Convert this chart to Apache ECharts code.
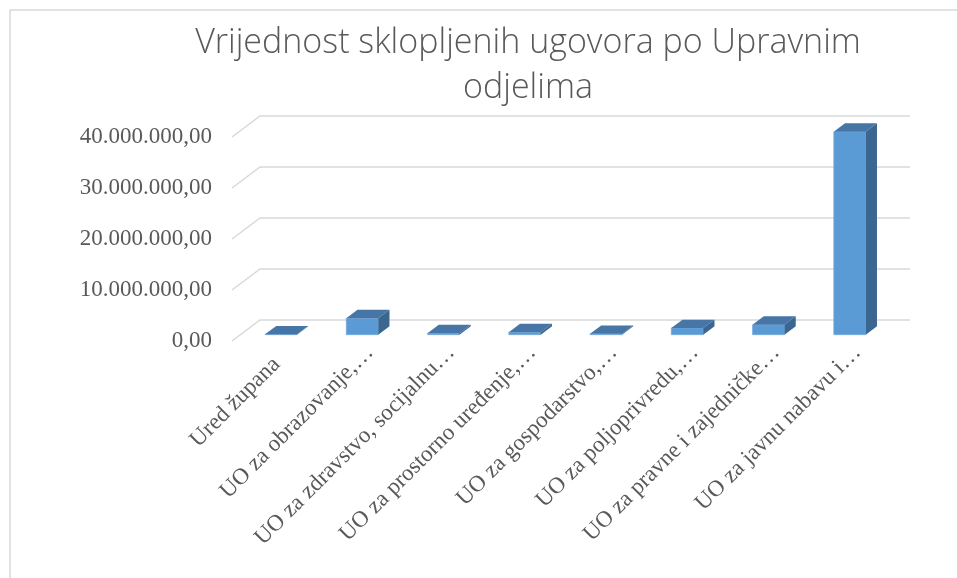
<!DOCTYPE html>
<html>
<head>
<meta charset="utf-8">
<script src="https://cdn.jsdelivr.net/npm/echarts@6/dist/echarts.min.js"></script>
<style>
  html, body { margin: 0; padding: 0; background: #fff; }
  #chart { width: 957px; height: 578px; }
</style>
</head>
<body>
<div id="chart"></div>
<script>
const categories = [
  'Ured župana',
  'UO za obrazovanje,…',
  'UO za zdravstvo, socijalnu…',
  'UO za prostorno uređenje,…',
  'UO za gospodarstvo,…',
  'UO za poljoprivredu,…',
  'UO za pravne i zajedničke…',
  'UO za javnu nabavu i…'
]
const values = [80000, 3250000, 300000, 500000, 180000, 1300000, 1950000, 39800000]
const yTicks = [0, 10000000, 20000000, 30000000, 40000000]

// oblique depth of the floor (front edge -> back wall), in pixels
const DEPTH = [28, -21]
const BAR_W = 32

function fmt(v) {
  const s = Math.round(v).toString().replace(/\B(?=(\d{3})+(?!\d))/g, '.')
  return s + ',00'
}

const chart = echarts.init(document.getElementById('chart'))

function renderWall(params, api) {
  const cs = params.coordSys
  const y = api.coord([0, api.value(0)])[1]
  const x0 = cs.x
  const x1 = cs.x + cs.width
  return {
    type: 'polyline',
    shape: {
      points: [
        [x0, y],
        [x0 + DEPTH[0], y + DEPTH[1]],
        [x1 + DEPTH[0], y + DEPTH[1]]
      ]
    },
    style: { stroke: '#d9d9d9', lineWidth: 1.5, fill: null },
    silent: true
  }
}

function renderBar(params, api) {
  const i = api.value(0)
  const top = api.coord([i, api.value(1)])
  const base = api.coord([i, 0])
  // bar sits in the middle 40% of the floor depth
  const fx = DEPTH[0] * 0.3
  const fy = DEPTH[1] * 0.3
  const dx = DEPTH[0] * 0.4
  const dy = DEPTH[1] * 0.4
  const x0 = top[0] + fx - BAR_W / 2
  const x1 = top[0] + fx + BAR_W / 2
  const yt = top[1] + fy
  const yb = base[1] + fy
  return {
    type: 'group',
    children: [
      {
        type: 'rect',
        shape: { x: x0, y: yt, width: BAR_W, height: yb - yt },
        style: { fill: '#5B9BD5', stroke: '#6FA6DA', lineWidth: 0.6 }
      },
      {
        type: 'polygon',
        shape: { points: [[x0, yt], [x1, yt], [x1 + dx, yt + dy], [x0 + dx, yt + dy]] },
        style: { fill: '#4675A6' }
      },
      {
        type: 'polygon',
        shape: { points: [[x1, yt], [x1 + dx, yt + dy], [x1 + dx, yb + dy], [x1, yb]] },
        style: { fill: '#3B6690' }
      }
    ]
  }
}

const option = {
  animation: false,
  graphic: [
    {
      type: 'rect',
      shape: { x: 10, y: 10, width: 1000, height: 600 },
      style: { fill: null, stroke: '#d9d9d9', lineWidth: 1.5 },
      silent: true
    }
  ],
  title: {
    text: 'Vrijednost sklopljenih ugovora po Upravnim\nodjelima',
    left: 523,
    top: 16,
    textAlign: 'center',
    textStyle: {
      fontFamily: 'Open Sans',
      fontWeight: 300,
      fontSize: 34,
      lineHeight: 45,
      color: '#595959'
    }
  },
  grid: [
    { left: 232, right: 75, top: 137, bottom: 237 },
    { left: 248, right: 59, top: 137, bottom: 237 }
  ],
  xAxis: [
    {
      type: 'category',
      gridIndex: 0,
      data: categories,
      axisLine: { show: false },
      axisTick: { show: false },
      axisLabel: { show: false }
    },
    {
      type: 'category',
      gridIndex: 1,
      data: categories,
      axisLine: { show: false },
      axisTick: { show: false },
      axisLabel: {
        rotate: 45,
        margin: 8,
        interval: 0,
        fontFamily: 'Liberation Serif',
        fontSize: 23,
        color: '#595959',
        formatter: (v, idx) => idx === 0 ? '{p|' + v + '}' : v,
        rich: {
          p: {
            fontFamily: 'Liberation Serif',
            fontSize: 23,
            color: '#595959',
            padding: [0, 17, 0, 0]
          }
        }
      }
    }
  ],
  yAxis: [
    {
      type: 'value',
      gridIndex: 0,
      min: 0,
      max: 40000000,
      interval: 10000000,
      axisLine: { show: false },
      axisTick: { show: false },
      splitLine: { show: false },
      axisLabel: {
        margin: 20,
        fontFamily: 'Liberation Serif',
        fontSize: 23,
        color: '#595959',
        formatter: fmt
      }
    },
    {
      type: 'value',
      gridIndex: 1,
      min: 0,
      max: 40000000,
      show: false
    }
  ],
  series: [
    {
      type: 'custom',
      xAxisIndex: 0,
      yAxisIndex: 0,
      data: yTicks.map((v) => [v]),
      encode: { y: 0 },
      renderItem: renderWall,
      z: 1
    },
    {
      type: 'custom',
      xAxisIndex: 0,
      yAxisIndex: 0,
      data: values.map((v, i) => [i, v]),
      encode: { x: 0, y: 1 },
      renderItem: renderBar,
      z: 2
    }
  ]
}

chart.setOption(option)
</script>
</body>
</html>
